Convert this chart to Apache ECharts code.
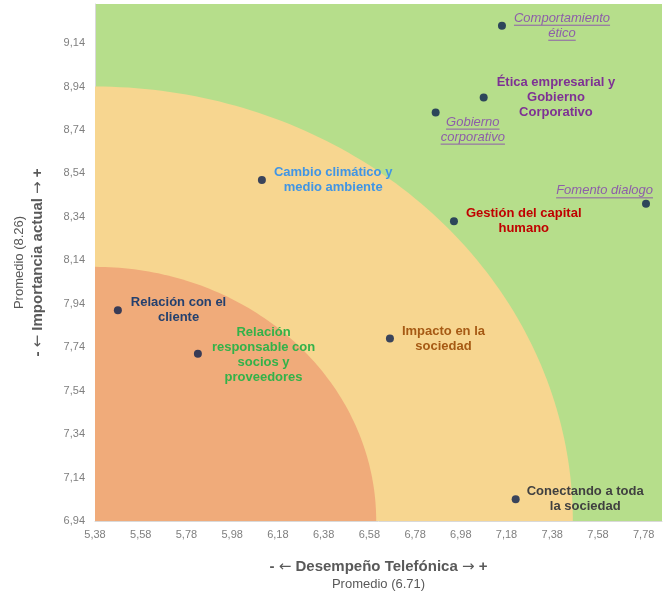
<!DOCTYPE html>
<html>
<head>
<meta charset="utf-8">
<script src="https://cdn.jsdelivr.net/npm/echarts@6/dist/echarts.min.js"></script>
<style>
    html, body { margin: 0; padding: 0; background: #fff; }
    #matrizBox { width: 664px; height: 597px; }
</style>
</head>
<body>
<div id="matrizBox"></div>
<script>
// temas de la matriz de materialidad
const temas = [
    'Comportamiento\nético',
    'Ética empresarial y\nGobierno\nCorporativo',
    'Gobierno\ncorporativo',
    'Fomento dialogo',
    'Gestión del capital\nhumano',
    'Cambio climático y\nmedio ambiente',
    'Relación con el\ncliente',
    'Relación\nresponsable con\nsocios y\nproveedores',
    'Impacto en la\nsociedad',
    'Conectando a toda\nla sociedad'
];
// eje X: desempeño Telefónica, eje Y: importancia actual
const desempeno = [7.16, 7.08, 6.87, 7.79, 6.95, 6.11, 5.48, 5.83, 6.67, 7.22];
const importancia = [9.22, 8.89, 8.82, 8.40, 8.32, 8.51, 7.91, 7.71, 7.78, 7.04];

// ticks de los ejes
const xMin = 5.38, xMax = 7.86, yMin = 6.94, yMax = 9.32, paso = 0.2;

// zonas (cuarto de elipse desde el origen): borde en X y en Y
const zonaX = [7.47, 6.61];
const zonaY = [8.94, 8.11];
const zonaColor = ['#f7d690', '#f0ab7a'];

// estilo de cada etiqueta
const etiquetaEstilo = [
    { color: '#8d5ea9', bold: false, italic: true, underline: true, anchor: 'left', dx: 12, dy: 0 },
    { color: '#7e3194', bold: true, italic: false, underline: false, anchor: 'left', dx: 13, dy: 0 },
    { color: '#8d5ea9', bold: false, italic: true, underline: true, anchor: 'left', dx: 5, dy: 17 },
    { color: '#8d5ea9', bold: false, italic: true, underline: true, anchor: 'right', dx: 7, dy: -13 },
    { color: '#c00000', bold: true, italic: false, underline: false, anchor: 'left', dx: 12, dy: 0 },
    { color: '#4095e5', bold: true, italic: false, underline: false, anchor: 'left', dx: 12, dy: 0 },
    { color: '#24406e', bold: true, italic: false, underline: false, anchor: 'left', dx: 13, dy: 0 },
    { color: '#33b249', bold: true, italic: false, underline: false, anchor: 'left', dx: 14, dy: 1 },
    { color: '#a65a14', bold: true, italic: false, underline: false, anchor: 'left', dx: 12, dy: 0 },
    { color: '#404040', bold: true, italic: false, underline: false, anchor: 'left', dx: 11, dy: 0 }
];

const fontFamily = '"Liberation Sans", Arial, sans-serif';
const fontSize = 13;
const lineH = 15;
const medidor = document.createElement('canvas').getContext('2d');

function fmt(v) {
    return v.toFixed(2).replace('.', ',');
}

// estilos del nombre de los ejes
const nombreRich = {
    a: { fontSize: 15, fontWeight: 'bold', color: '#595959', lineHeight: 19, verticalAlign: 'middle' },
    f: { fontSize: 15, fontFamily: '"DejaVu Sans", sans-serif', color: '#595959', lineHeight: 19, verticalAlign: 'middle', padding: [2, 0, 0, 0] },
    b: { fontSize: 13, color: '#595959', lineHeight: 17, verticalAlign: 'middle' }
};

var chartDom = document.getElementById('matrizBox');
var myChart = echarts.init(chartDom);

var option = {
    animation: false,
    textStyle: { fontFamily: fontFamily },
    grid: {
        left: 95,
        right: 2,
        top: 4,
        bottom: 76,
        show: true,
        backgroundColor: '#b6de8b',
        borderWidth: 0
    },
    xAxis: {
        type: 'value',
        min: xMin,
        max: xMax,
        interval: paso,
        splitLine: { show: false },
        axisTick: { show: false },
        axisLine: { show: true, lineStyle: { color: '#d9d9d9' } },
        axisLabel: {
            color: '#7f7f7f',
            fontSize: 11,
            margin: 8,
            showMaxLabel: false,
            formatter: fmt
        },
        name: '{a|- }{f|←}{a| Desempeño Telefónica }{f|→}{a| +}\n{b|Promedio (6.71)}',
        nameLocation: 'middle',
        nameGap: 36,
        nameTextStyle: { align: 'center', rich: nombreRich }
    },
    yAxis: {
        type: 'value',
        min: yMin,
        max: yMax,
        interval: paso,
        splitLine: { show: false },
        axisTick: { show: false },
        axisLine: { show: true, lineStyle: { color: '#d9d9d9' } },
        axisLabel: {
            color: '#7f7f7f',
            fontSize: 11,
            margin: 10,
            showMaxLabel: false,
            formatter: fmt
        },
        name: '{b|Promedio (8.26)}\n{a|- }{f|←}{a| Importancia actual }{f|→}{a| +}',
        nameLocation: 'middle',
        nameRotate: 90,
        nameGap: 48,
        nameTextStyle: { align: 'center', rich: nombreRich }
    },
    series: [
        {
            // zonas de color
            type: 'custom',
            silent: true,
            z: 1,
            data: zonaX.map((x, i) => [x, zonaY[i]]),
            renderItem: function (params, api) {
                const o = api.coord([xMin, yMin]);
                const e = api.coord([api.value(0), api.value(1)]);
                const rx = e[0] - o[0];
                const ry = o[1] - e[1];
                const pts = [[o[0], o[1]]];
                for (let k = 0; k <= 90; k++) {
                    const t = k * Math.PI / 180;
                    pts.push([o[0] + rx * Math.cos(t), o[1] - ry * Math.sin(t)]);
                }
                return {
                    type: 'polygon',
                    shape: { points: pts },
                    style: { fill: zonaColor[params.dataIndex] }
                };
            }
        },
        {
            type: 'scatter',
            z: 3,
            symbolSize: 8,
            itemStyle: { color: '#0a1f4e' },
            data: desempeno.map((x, i) => [x, importancia[i]])
        },
        {
            // etiquetas de los temas
            type: 'custom',
            silent: true,
            z: 4,
            data: desempeno.map((x, i) => [x, importancia[i]]),
            renderItem: function (params, api) {
                const i = params.dataIndex;
                const st = etiquetaEstilo[i];
                const p = api.coord([api.value(0), api.value(1)]);
                const font = (st.italic ? 'italic ' : '') + (st.bold ? 'bold ' : '') + fontSize + 'px ' + fontFamily;
                medidor.font = font;
                const lineas = temas[i].split('\n');
                const anchos = lineas.map(l => medidor.measureText(l).width);
                const w = Math.max.apply(null, anchos);
                const left = st.anchor === 'left' ? p[0] + st.dx : p[0] + st.dx - w;
                const cx = left + w / 2;
                const top = p[1] + st.dy - lineas.length * lineH / 2;
                const hijos = [];
                lineas.forEach((l, k) => {
                    const cy = top + lineH * k + lineH / 2;
                    hijos.push({
                        type: 'text',
                        x: cx,
                        y: cy,
                        style: {
                            text: l,
                            fill: st.color,
                            font: font,
                            align: 'center',
                            verticalAlign: 'middle'
                        }
                    });
                    if (st.underline) {
                        hijos.push({
                            type: 'line',
                            shape: { x1: cx - anchos[k] / 2, y1: cy + 7, x2: cx + anchos[k] / 2, y2: cy + 7 },
                            style: { stroke: st.color, lineWidth: 1 }
                        });
                    }
                });
                return { type: 'group', children: hijos };
            }
        }
    ]
};
myChart.setOption(option);
</script>
</body>
</html>
